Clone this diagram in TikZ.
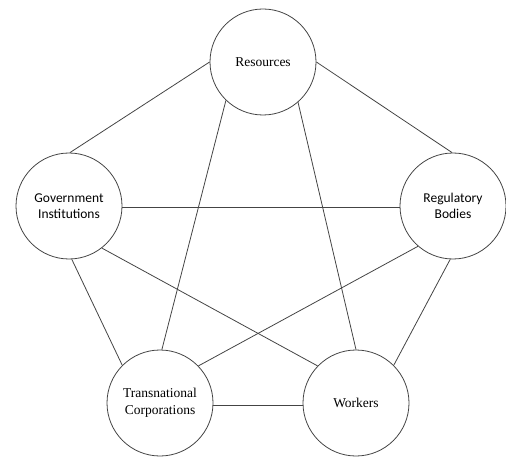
\documentclass[tikz,border=0pt]{standalone}
\usepackage{fontspec}
\newfontfamily\fa{Liberation Serif}
\newfontfamily\fb{Carlito}
\definecolor{inkline}{HTML}{444444}
\begin{document}
\begin{tikzpicture}[x=1pt,y=-1pt,
  ring/.style={circle,draw=inkline,line width=0.8pt,minimum size=106pt,inner sep=0pt,align=center},
  link/.style={draw=inkline,line width=0.8pt}]
\useasboundingbox (0,0) rectangle (506,457);

\node[ring,font=\fa\fontsize{13.5}{17}\selectfont] (res)   at (263,62)  {Resources};
\node[ring,font=\fb\fontsize{13.5}{16}\selectfont] (gov)   at (69,206)  {Government\\Institutions};
\node[ring,font=\fb\fontsize{13.5}{16}\selectfont] (reg)   at (453,206) {Regulatory\\Bodies};
\node[ring,font=\fa\fontsize{13.5}{17}\selectfont] (trans) at (160,403) {Transnational\\Corporations};
\node[ring,font=\fa\fontsize{13.5}{17}\selectfont] (work)  at (356,403) {Workers};

% outer ring
\draw[link] (res.180) -- (gov.89);
\draw[link] (res.0) -- (reg.91);
\draw[link] (gov.-87) -- (trans.135);
\draw[link] (reg.-93) -- (work.45);
\draw[link] (trans.-3) -- (work.183);

% inner star
\draw[link] (gov.-2) -- (reg.182);
\draw[link] (res.226) -- (trans.88);
\draw[link] (res.-49) -- (work.90);
\draw[link] (gov.-52) -- (work.136);
\draw[link] (reg.229) -- (trans.44);
\end{tikzpicture}
\end{document}
